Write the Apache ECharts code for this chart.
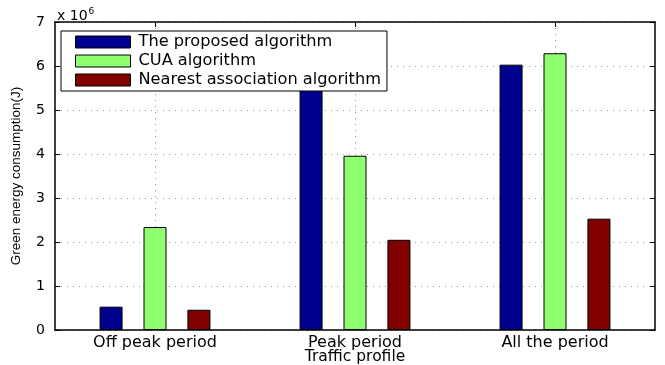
<!DOCTYPE html>
<html>
<head>
<meta charset="utf-8">
<script src="https://cdn.jsdelivr.net/npm/echarts@6/dist/echarts.min.js"></script>
<style>
  html, body { margin: 0; padding: 0; background: #fff; }
  #chart { width: 665px; height: 365px; }
</style>
</head>
<body>
<div id="chart"></div>
<script>
// Traffic profiles along the x axis
const categories = ['Off peak period', 'Peak period', 'All the period'];

// Green energy consumption, in units of 10^6 J
const proposedAlgorithm = [0.53, 5.49, 6.03];
const cuaAlgorithm = [2.34, 3.96, 6.29];
const nearestAssociation = [0.46, 2.05, 2.53];

const yTicks = [0, 1, 2, 3, 4, 5, 6, 7];

const FONT = '"DejaVu Sans", Verdana, sans-serif';
const NARROW = '"Liberation Sans Narrow", "Liberation Sans", Arial, sans-serif';

const chart = echarts.init(document.getElementById('chart'), null, { renderer: 'canvas' });

const dotted = { color: '#9a9a9a', width: 1, type: [1, 5] };
const frameLine = { show: true, onZero: false, lineStyle: { color: '#000', width: 1.5 } };
const frameTick = { show: true, inside: true, length: 5, lineStyle: { color: '#000' } };

function barSeries(name, data, color) {
  return {
    name: name,
    type: 'bar',
    data: data,
    barWidth: 23,
    barGap: '91%',
    itemStyle: { color: color, borderColor: '#000', borderWidth: 1 },
    z: 3
  };
}

chart.setOption({
  animation: false,
  textStyle: { fontFamily: FONT },
  title: {
    text: '{x|x 10}{sup|6}',
    left: 52,
    top: 2,
    textStyle: {
      fontWeight: 'normal',
      rich: {
        x: { fontFamily: FONT, fontSize: 14, fontWeight: 'normal', color: '#000', verticalAlign: 'bottom', lineHeight: 16 },
        sup: { fontFamily: FONT, fontSize: 9, fontWeight: 'normal', color: '#000', verticalAlign: 'top', padding: [0, 0, 8, 1], lineHeight: 16 }
      }
    }
  },
  legend: {
    orient: 'vertical',
    left: 61,
    top: 31,
    padding: [3, 6, 3, 14],
    icon: 'rect',
    itemWidth: 55,
    itemHeight: 12,
    itemGap: 3,
    backgroundColor: '#fff',
    borderColor: '#000',
    borderWidth: 1,
    borderRadius: 0,
    selectedMode: false,
    itemStyle: { borderColor: '#000', borderWidth: 1 },
    textStyle: { fontFamily: FONT, fontSize: 16.2, color: '#000', padding: [0, 0, 0, 3] },
    z: 10
  },
  grid: { left: 55, right: 10, top: 22, bottom: 35, containLabel: false, outerBoundsMode: 'none' },
  xAxis: [
    {
      type: 'category',
      data: categories,
      position: 'bottom',
      name: 'Traffic profile',
      nameLocation: 'middle',
      nameGap: 19,
      nameMoveOverlap: false,
      nameTextStyle: { fontFamily: FONT, fontSize: 15.5, color: '#000' },
      axisLine: frameLine,
      axisTick: Object.assign({ alignWithLabel: true }, frameTick),
      axisLabel: { fontFamily: FONT, fontSize: 16, color: '#000', margin: 5 },
      splitLine: { show: true, alignWithLabel: true, lineStyle: dotted }
    },
    {
      type: 'category',
      data: categories,
      position: 'top',
      axisLine: frameLine,
      axisTick: Object.assign({ alignWithLabel: true }, frameTick),
      axisLabel: { show: false },
      splitLine: { show: false }
    }
  ],
  yAxis: [
    {
      type: 'value',
      min: yTicks[0],
      max: yTicks[yTicks.length - 1],
      interval: 1,
      name: 'Green energy consumption(J)',
      nameLocation: 'middle',
      nameGap: 32,
      nameMoveOverlap: false,
      nameTextStyle: { fontFamily: NARROW, fontSize: 13.5, color: '#000' },
      axisLine: frameLine,
      axisTick: frameTick,
      axisLabel: { fontFamily: FONT, fontSize: 14, color: '#000', margin: 10 },
      splitLine: { show: true, lineStyle: dotted }
    },
    {
      type: 'value',
      position: 'right',
      min: yTicks[0],
      max: yTicks[yTicks.length - 1],
      interval: 1,
      axisLine: frameLine,
      axisTick: frameTick,
      axisLabel: { show: false },
      splitLine: { show: false }
    }
  ],
  series: [
    barSeries('The proposed algorithm', proposedAlgorithm, '#00008f'),
    barSeries('CUA algorithm', cuaAlgorithm, '#8fff70'),
    barSeries('Nearest association algorithm', nearestAssociation, '#800000')
  ]
});
</script>
</body>
</html>
